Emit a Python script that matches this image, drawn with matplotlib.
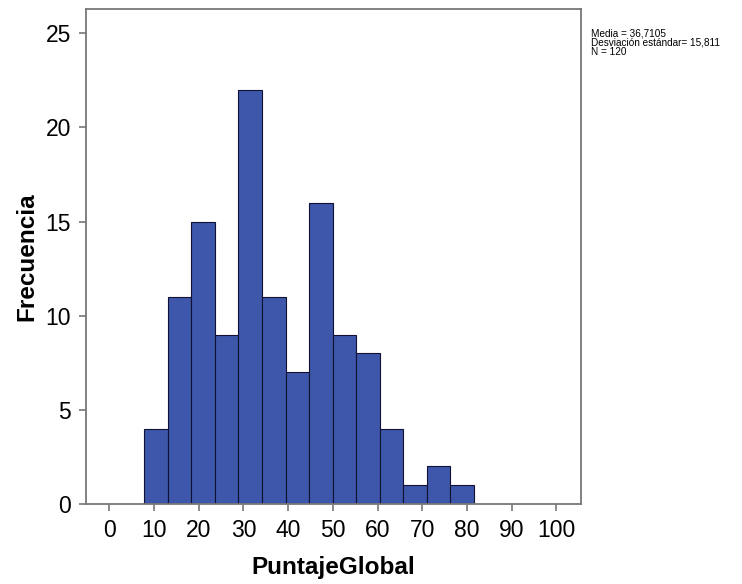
import numpy as np
import matplotlib
matplotlib.use("Agg")
import matplotlib.pyplot as plt

plt.rcParams['font.family'] = ['Liberation Sans', 'DejaVu Sans']

# histogram of PuntajeGlobal (SPSS style), counts
bin_start = 7.8
bin_width = 5.27
counts = [4, 11, 15, 9, 22, 11, 7, 16, 9, 8, 4, 1, 2, 1]
xticks = [0, 10, 20, 30, 40, 50, 60, 70, 80, 90, 100]
yticks = [0, 5, 10, 15, 20, 25]
stats_lines = ["Media = 36,7105", "Desviación estándar= 15,811", "N = 120"]

edges = bin_start + bin_width * np.arange(len(counts) + 1)

fig = plt.figure(figsize=(7.42, 5.84), dpi=100)
ax = fig.add_axes([0.116, 0.137, 0.667, 0.848])

ax.bar(edges[:-1], counts, width=bin_width, align='edge',
       color='#3E57AA', edgecolor='#111133', linewidth=0.8)

ax.set_xlim(-5.2, 105.5)
ax.set_ylim(0, 26.3)
ax.set_xticks(xticks)
ax.set_yticks(yticks)
ax.tick_params(labelsize=16.5, length=5, width=1.2, color='#777777', pad=6)
for s in ax.spines.values():
    s.set_color('#777777')
    s.set_linewidth(1.3)

ax.set_xlabel("PuntajeGlobal", fontsize=17.5, fontweight='bold', labelpad=10)
ax.set_ylabel("Frecuencia", fontsize=17.5, fontweight='bold', labelpad=5)

for i, line in enumerate(stats_lines):
    fig.text(591 / 742, 1 - (33 + 9.5 * i) / 584, line, fontsize=7.2,
             va='center', ha='left')

plt.savefig("out.png", dpi=100)
